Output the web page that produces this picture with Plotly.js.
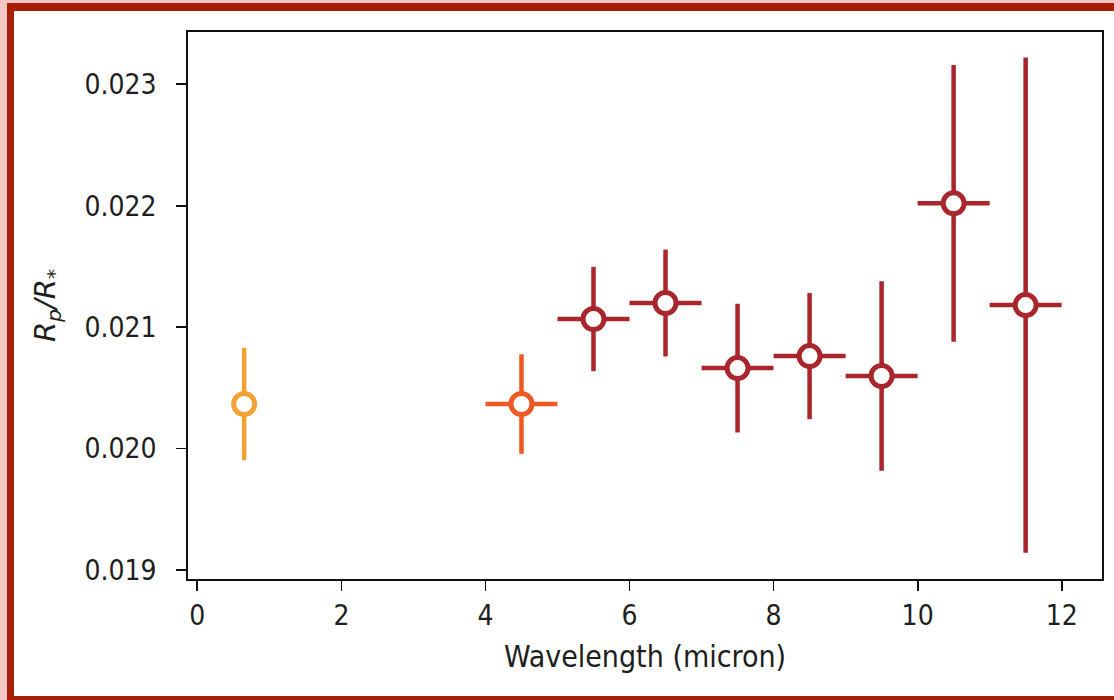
<!DOCTYPE html>
<html>
<head>
<meta charset="utf-8">
<script src="https://cdn.plot.ly/plotly-3.0.1.min.js"></script>
<style>
  html, body { margin: 0; padding: 0; width: 1114px; height: 700px; overflow: hidden; background: #f5c8c6; }
  #frame { position: absolute; left: 7px; top: 3px; width: 1200px; height: 700px; box-sizing: border-box;
           border-style: solid; border-color: #a81e06; border-width: 8px 0 7.5px 7px; background: #ffffff; }
  #chart { position: absolute; left: 0; top: 0; width: 1114px; height: 700px; }
</style>
</head>
<body>
<div id="frame"></div>
<div id="chart"></div>
<script>
// ---- data ----
const optWavelength = [0.65];
const optRadius = [0.020367];
const optRadiusErr = [0.000463];

const iracWavelength = [4.5];
const iracHalfWidth = [0.5];
const iracRadius = [0.020367];
const iracRadiusErr = [0.00041];

const miriWavelength = [5.5, 6.5, 7.5, 8.5, 9.5, 10.5, 11.5];
const miriHalfWidth = [0.5, 0.5, 0.5, 0.5, 0.5, 0.5, 0.5];
const miriRadius = [0.021067, 0.021199, 0.020663, 0.020762, 0.020598, 0.02202, 0.021182];
const miriRadiusErr = [0.00043, 0.00044, 0.00053, 0.00052, 0.00078, 0.00114, 0.00204];

const xTickVals = [0, 2, 4, 6, 8, 10, 12];
const yTickVals = [0.019, 0.020, 0.021, 0.022, 0.023];

// ---- styling ----
const fontFamily = 'Liberation Sans Narrow, DejaVu Sans Condensed, Arial Narrow, sans-serif';
const tickFont = { family: fontFamily, size: 28, color: '#1e1e1e' };
const xTitleFont = { family: fontFamily, size: 30, color: '#1e1e1e' };

function series(x, y, ey, ex, color) {
  const t = {
    type: 'scatter', mode: 'markers', x: x, y: y,
    marker: { size: 21, color: '#ffffff', line: { color: color, width: 5 } },
    error_y: { type: 'data', array: ey, visible: true, color: color, thickness: 4.5, width: 0 },
    hoverinfo: 'x+y', showlegend: false
  };
  if (ex) t.error_x = { type: 'data', array: ex, visible: true, color: color, thickness: 4.5, width: 0 };
  return t;
}

const data = [
  series(optWavelength, optRadius, optRadiusErr, null, '#f2a234'),
  series(iracWavelength, iracRadius, iracRadiusErr, iracHalfWidth, '#ee5a24'),
  series(miriWavelength, miriRadius, miriRadiusErr, miriHalfWidth, '#a8262c')
];

const layout = {
  width: 1114, height: 700,
  paper_bgcolor: 'rgba(0,0,0,0)', plot_bgcolor: '#ffffff',
  margin: { l: 188, r: 12, t: 32, b: 121, pad: 0 },
  xaxis: {
    range: [-0.13, 12.56], tickvals: xTickVals, ticktext: xTickVals.map(String),
    showgrid: false, zeroline: false, showline: true, mirror: true,
    linecolor: '#111111', linewidth: 1.8,
    ticks: 'outside', ticklen: 10, tickwidth: 1.8, tickcolor: '#111111',
    tickfont: tickFont, ticklabelstandoff: 1,
    title: { text: 'Wavelength (micron)', font: xTitleFont, standoff: 14 }
  },
  yaxis: {
    range: [0.018926, 0.023431], tickvals: yTickVals, ticktext: yTickVals.map(v => v.toFixed(3)),
    showgrid: false, zeroline: false, showline: true, mirror: true,
    linecolor: '#111111', linewidth: 1.8,
    ticks: 'outside', ticklen: 10, tickwidth: 1.8, tickcolor: '#111111',
    tickfont: tickFont, ticklabelstandoff: 14,
    title: { text: '<i>R<sub>p</sub>/R<sub>*</sub></i>', font: { family: 'DejaVu Sans, sans-serif', size: 29, color: '#1e1e1e' }, standoff: 20 }
  }
};

Plotly.newPlot('chart', data, layout, { displayModeBar: false, staticPlot: true });
</script>
</body>
</html>
